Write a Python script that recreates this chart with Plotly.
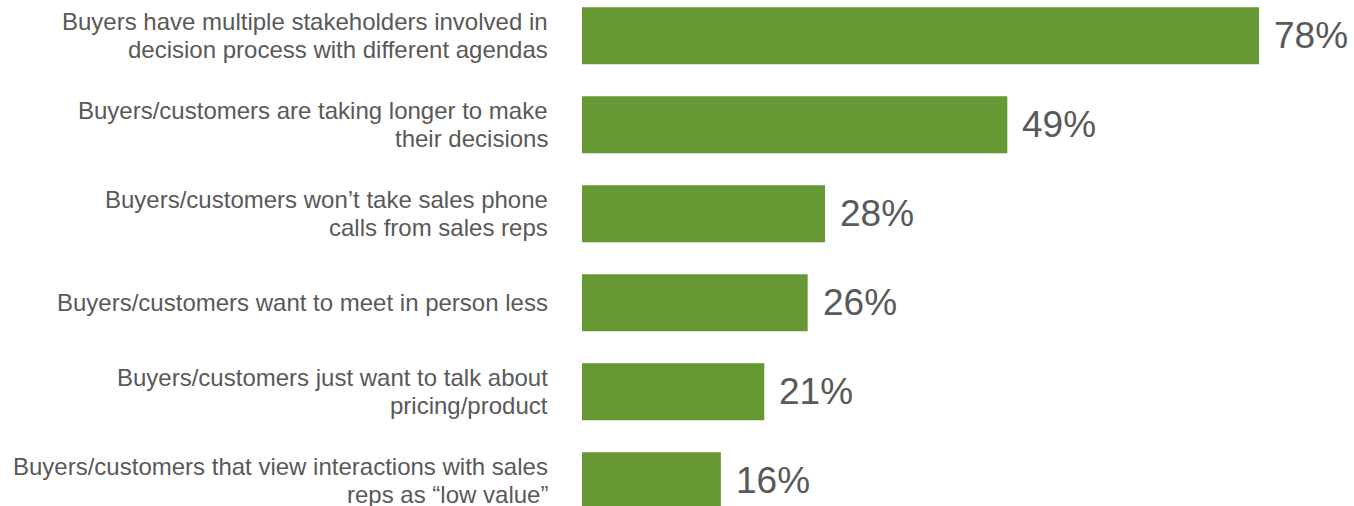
import plotly.graph_objects as go

categories = [
    "Buyers have multiple stakeholders involved in<br>decision process with different agendas",
    "Buyers/customers are taking longer to make<br>their decisions",
    "Buyers/customers won’t take sales phone<br>calls from sales reps",
    "Buyers/customers want to meet in person less",
    "Buyers/customers just want to talk about<br>pricing/product",
    "Buyers/customers that view interactions with sales<br>reps as “low value”",
]
values = [78, 49, 28, 26, 21, 16]

BAR_COLOR = "#669933"
TEXT_COLOR = "#595959"
FONT = "Liberation Sans, Arial, sans-serif"
LINE_STEP = 27.5  # px between lines of a wrapped category label

fig = go.Figure(
    go.Bar(
        x=values,
        y=categories,
        orientation="h",
        marker=dict(color=BAR_COLOR, line=dict(width=0)),
        width=0.64,
        hoverinfo="skip",
    )
)

for cat, v in zip(categories, values):
    # value label just past the end of the bar
    fig.add_annotation(
        x=v, y=cat, text=f"{v}%", showarrow=False,
        xanchor="left", yanchor="middle", xshift=14, borderpad=0,
        font=dict(family=FONT, size=37, color=TEXT_COLOR),
    )
    # category label, right-aligned to the left of the bars, one line at a time
    lines = cat.split("<br>")
    n = len(lines)
    for i, line in enumerate(lines):
        fig.add_annotation(
            x=0, y=cat, text=line, showarrow=False,
            xanchor="right", yanchor="middle", align="right", borderpad=0,
            xshift=-33, yshift=((n - 1) / 2 - i) * LINE_STEP,
            font=dict(family=FONT, size=24, color=TEXT_COLOR),
        )

fig.update_layout(
    width=1354, height=506,
    margin=dict(l=582, r=0, t=0, b=0),
    paper_bgcolor="white", plot_bgcolor="white",
    showlegend=False,
    font=dict(family=FONT, color=TEXT_COLOR),
)
fig.update_xaxes(range=[0, 88.94], visible=False)
fig.update_yaxes(
    categoryorder="array", categoryarray=categories,
    range=[5.284, -0.401],
    showgrid=False, zeroline=False, showline=False, ticks="",
    showticklabels=False,
)

fig.write_html("out.html")
